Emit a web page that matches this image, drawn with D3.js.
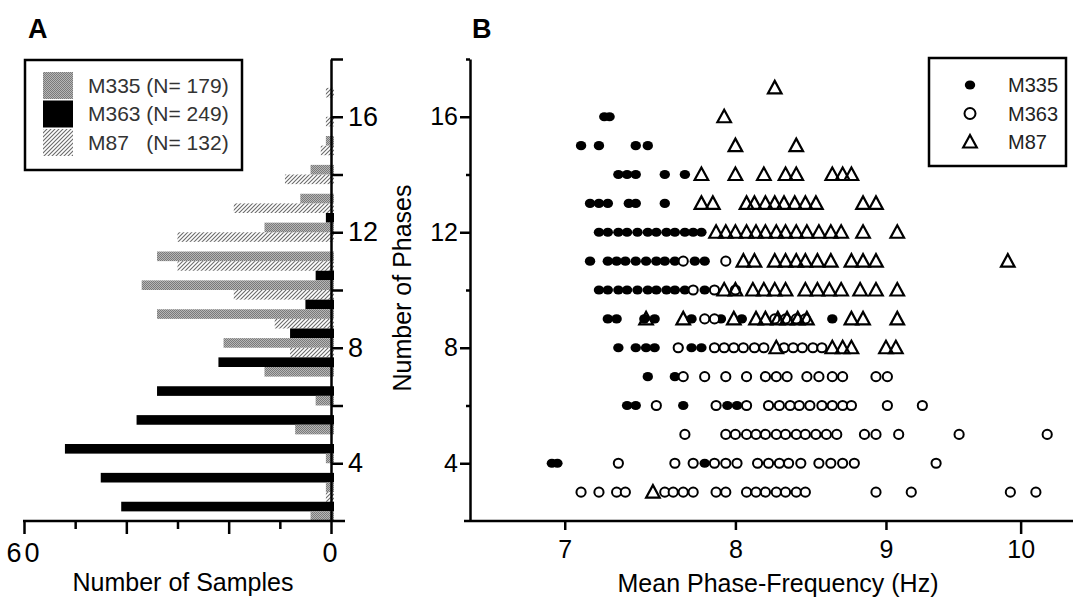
<!DOCTYPE html>
<html>
<head>
<meta charset="utf-8">
<script src="https://cdn.jsdelivr.net/npm/d3@7"></script>
<style>
  body { margin: 0; background: #fff; }
  svg text { font-family: "Liberation Sans", Arial, sans-serif; fill: #000; }
</style>
</head>
<body>
<script>
// ---- panel A : histogram of phases per animal
var phases = d3.range(3, 18);
var countM335 = [4, 1, 1, 7, 3, 13, 21, 34, 37, 34, 13, 6, 4, 1, 0];
var countM363 = [41, 45, 52, 38, 34, 22, 8, 5, 3, 0, 1, 0, 0, 0, 0];
var countM87  = [1, 0, 0, 0, 0, 8, 11, 19, 30, 30, 19, 9, 2, 1, 1];
var legendA = ["M335 (N= 179)", "M363 (N= 249)", "M87   (N= 132)"];

// ---- panel B : mean phase frequency (Hz) per number of phases
var freqM335 = [
  [16, [7.22, 7.25]],
  [15, [7.09, 7.19, 7.40, 7.47]],
  [14, [7.30, 7.35, 7.40, 7.57, 7.69]],
  [13, [7.14, 7.19, 7.24, 7.36, 7.40, 7.57]],
  [12, [7.19, 7.24, 7.30, 7.35, 7.41, 7.47, 7.52, 7.58, 7.63, 7.69, 7.74, 7.79]],
  [11, [7.14, 7.24, 7.29, 7.34, 7.40, 7.46, 7.52, 7.57, 7.63, 7.75, 7.81]],
  [10, [7.19, 7.24, 7.30, 7.35, 7.41, 7.47, 7.52, 7.58, 7.63, 7.69, 7.81]],
  [9,  [7.24, 7.29, 7.45, 7.51, 7.73, 7.91, 8.04, 8.63]],
  [8,  [7.30, 7.40, 7.46, 7.51, 7.65, 7.73, 7.79]],
  [7,  [7.47, 7.63]],
  [6,  [7.35, 7.40, 7.68, 7.95, 8.01]],
  [4,  [6.93, 6.96, 7.81]]
];
var freqM363 = [
  [11, [7.68, 7.94]],
  [10, [7.74, 7.87, 8.00]],
  [9,  [7.81, 7.87, 8.25, 8.32, 8.39, 8.45]],
  [8,  [7.65, 7.87, 7.93, 7.99, 8.05, 8.12, 8.18, 8.31, 8.37, 8.43, 8.50, 8.56]],
  [7,  [7.68, 7.81, 7.94, 8.07, 8.19, 8.26, 8.33, 8.46, 8.54, 8.63, 8.70, 8.93, 9.01]],
  [6,  [7.52, 7.88, 8.07, 8.21, 8.28, 8.35, 8.41, 8.48, 8.56, 8.63, 8.70, 8.76, 9.01, 9.26]],
  [5,  [7.69, 7.94, 8.00, 8.07, 8.13, 8.19, 8.26, 8.32, 8.39, 8.45, 8.52, 8.59, 8.66, 8.85, 8.93, 9.09, 9.53, 10.21]],
  [4,  [7.30, 7.63, 7.74, 7.87, 7.94, 8.01, 8.14, 8.21, 8.28, 8.34, 8.42, 8.54, 8.62, 8.70, 8.78, 9.36]],
  [3,  [7.09, 7.19, 7.29, 7.34, 7.57, 7.62, 7.68, 7.74, 7.88, 7.94, 8.07, 8.13, 8.19, 8.26, 8.32, 8.39, 8.45, 8.93, 9.18, 9.92, 10.12]]
];
var freqM87 = [
  [17, [8.25]],
  [16, [7.93]],
  [15, [8.00, 8.39]],
  [14, [7.79, 8.00, 8.18, 8.32, 8.39, 8.63, 8.70, 8.76]],
  [13, [7.79, 7.86, 8.07, 8.12, 8.19, 8.25, 8.31, 8.38, 8.45, 8.52, 8.84, 8.93]],
  [12, [7.88, 7.94, 8.00, 8.07, 8.13, 8.19, 8.26, 8.32, 8.39, 8.46, 8.54, 8.62, 8.69, 8.84, 9.08]],
  [11, [8.05, 8.12, 8.25, 8.32, 8.39, 8.45, 8.53, 8.62, 8.76, 8.84, 8.93, 9.90]],
  [10, [7.93, 8.00, 8.11, 8.18, 8.25, 8.32, 8.45, 8.53, 8.61, 8.69, 8.82, 8.93, 9.08]],
  [9,  [7.46, 7.68, 7.99, 8.13, 8.19, 8.27, 8.33, 8.40, 8.46, 8.76, 8.84, 9.08]],
  [8,  [8.26, 8.63, 8.70, 8.76, 9.00, 9.07]],
  [3,  [7.50]]
];
var legendB = ["M335", "M363", "M87"];
var freqTicks = [7, 8, 9, 10];
var phaseTicks = [4, 6, 8, 10, 12, 14, 16, 18];
var sampleTicks = [60, 50, 40, 30, 20, 10, 0];

var W = 1073, H = 597;
var svg = d3.select("body").append("svg")
    .attr("width", W)
    .attr("height", H);

var defs = svg.append("defs");
// fine grey stipple (M335)
var pDots = defs.append("pattern")
    .attr("id", "dots")
    .attr("width", 2).attr("height", 2)
    .attr("patternUnits", "userSpaceOnUse");
pDots.append("rect").attr("width", 2).attr("height", 2).attr("fill", "#b6b6b6");
pDots.append("rect").attr("width", 1).attr("height", 1).attr("fill", "#7a7a7a");
pDots.append("rect").attr("x", 1).attr("y", 1).attr("width", 1).attr("height", 1).attr("fill", "#7a7a7a");
// diagonal hatch (M87)
var pHatch = defs.append("pattern")
    .attr("id", "hatch")
    .attr("width", 4).attr("height", 4)
    .attr("patternUnits", "userSpaceOnUse");
pHatch.append("rect").attr("width", 4).attr("height", 4).attr("fill", "#fff");
pHatch.append("path")
    .attr("d", "M-1,1 l2,-2 M0,4 l4,-4 M3,5 l2,-2")
    .attr("stroke", "#6a6a6a").attr("stroke-width", 1.1);

var fills = {M335: "url(#dots)", M363: "#000", M87: "url(#hatch)"};

// shared phase scale
var yScale = d3.scaleLinear().domain([2, 18]).range([521, 59]);

// ================= panel A
var xA = d3.scaleLinear().domain([60, 0]).range([24, 331]);
var gA = svg.append("g");

var seriesA = [
  {key: "M87", counts: countM87},
  {key: "M363", counts: countM363},
  {key: "M335", counts: countM335}
];
var bandH = yScale(2) - yScale(3);
var sub = d3.scaleBand().domain(["M87", "M363", "M335"]).range([0, bandH]);

seriesA.forEach(function(s) {
  gA.selectAll("rect." + s.key)
      .data(phases.map(function(p, i) { return {phase: p, n: s.counts[i]}; })
                  .filter(function(d) { return d.n > 0; }))
      .enter()
      .append("rect")
      .attr("class", s.key)
      .attr("x", function(d) { return xA(d.n); })
      .attr("y", function(d) { return yScale(d.phase) + sub(s.key); })
      .attr("width", function(d) { return xA(0) + 3 - xA(d.n); })
      .attr("height", sub.bandwidth())
      .attr("fill", fills[s.key]);
});

// y axis (ticks to the right)
var axA = gA.append("g")
    .attr("transform", "translate(" + xA(0) + ",0)")
    .call(d3.axisRight(yScale).tickValues(phaseTicks).tickSize(12).tickPadding(5).tickSizeOuter(0)
          .tickFormat(function(d) { return d % 4 === 0 ? d : ""; }));
// x axis
var axAx = gA.append("g")
    .attr("transform", "translate(0," + yScale(2) + ")")
    .call(d3.axisBottom(xA).tickValues(sampleTicks).tickSize(13).tickSizeOuter(0)
          .tickFormat(function(d) { return (d === 60 || d === 0) ? d : ""; }));
axAx.selectAll(".tick line").attr("y2", function(d) { return d % 20 === 0 ? 13 : 8; });
axAx.select(".domain").attr("d", "M" + (xA(60) - 1) + ",0H" + (xA(0) + 14));
axAx.selectAll(".tick text").attr("y", 22).attr("font-size", 27).attr("letter-spacing", 3);
axA.selectAll(".tick text").attr("font-size", 27);

gA.append("text")
    .attr("x", 183).attr("y", 591)
    .attr("text-anchor", "middle")
    .attr("font-size", 25)
    .text("Number of Samples");

gA.append("text")
    .attr("x", 28).attr("y", 38)
    .attr("font-size", 27).attr("font-weight", "bold")
    .text("A");

// legend A
var legA = gA.append("g");
legA.append("rect")
    .attr("x", 25).attr("y", 60).attr("width", 217).attr("height", 110)
    .attr("fill", "#fff").attr("stroke", "#000").attr("stroke-width", 2.5);
var legKeys = ["M335", "M363", "M87"];
legKeys.forEach(function(k, i) {
  var cy = 85 + i * 28.5;
  legA.append("rect")
      .attr("x", 43).attr("y", cy - 13).attr("width", 30).attr("height", 27)
      .attr("fill", fills[k]);
  legA.append("text")
      .attr("x", 88).attr("y", cy)
      .attr("dy", "0.36em")
      .attr("font-size", 21)
      .style("white-space", "pre")
      .attr("xml:space", "preserve")
      .style("fill", "#333")
      .text(legendA[i]);
});

// ================= panel B
var xB = d3.scaleLog().domain([6.5, 10.5]).range([470, 1083]);
var gB = svg.append("g");

gB.append("g")
    .attr("transform", "translate(" + xB(6.5) + ",0)")
    .call(d3.axisLeft(yScale).tickValues(phaseTicks).tickSize(10).tickPadding(2).tickSizeOuter(0)
          .tickFormat(function(d) { return d % 4 === 0 ? d : ""; }))
    .call(function(g) {
      g.selectAll(".tick line").attr("x2", function(d) { return d % 4 === 0 ? -10 : -4; });
      g.selectAll(".tick text").attr("font-size", 25);
    });

gB.append("g")
    .attr("transform", "translate(0," + yScale(2) + ")")
    .call(d3.axisBottom(xB).tickValues(freqTicks).tickSize(9).tickPadding(10).tickSizeOuter(0)
          .tickFormat(d3.format("d")))
    .call(function(g) {
      g.select(".domain").attr("d", "M" + (xB(6.5) - 6) + ",0H" + W);
      g.selectAll(".tick line").attr("y2", function(d) { return d === 10 ? 13 : 9; });
      g.selectAll(".tick text").attr("font-size", 25);
    });

svg.selectAll(".domain, .tick line")
    .attr("stroke", "#000").attr("stroke-width", 2.5);
svg.selectAll(".tick text").attr("fill", "#000")
    .attr("font-family", "'Liberation Sans', Arial, sans-serif");

gB.append("text")
    .attr("x", 778).attr("y", 592)
    .attr("text-anchor", "middle")
    .attr("font-size", 25)
    .text("Mean Phase-Frequency (Hz)");

gB.append("text")
    .attr("transform", "translate(411,288) rotate(-90)")
    .attr("text-anchor", "middle")
    .attr("font-size", 25)
    .text("Number of Phases");

gB.append("text")
    .attr("x", 472).attr("y", 38)
    .attr("font-size", 27).attr("font-weight", "bold")
    .text("B");

function flatten(rows) {
  var out = [];
  rows.forEach(function(r) {
    r[1].forEach(function(f) { out.push({phase: r[0], f: f}); });
  });
  return out;
}

var triPath = "M0,-7L6.8,5.5L-6.8,5.5Z";

gB.selectAll("circle.m335")
    .data(flatten(freqM335))
    .enter()
    .append("ellipse")
    .attr("class", "m335")
    .attr("cx", function(d) { return xB(d.f); })
    .attr("cy", function(d) { return yScale(d.phase); })
    .attr("rx", 5.2).attr("ry", 4.6)
    .attr("fill", "#000");

gB.selectAll("circle.m363")
    .data(flatten(freqM363))
    .enter()
    .append("circle")
    .attr("class", "m363")
    .attr("cx", function(d) { return xB(d.f); })
    .attr("cy", function(d) { return yScale(d.phase); })
    .attr("r", 4.6)
    .attr("fill", "#fff")
    .attr("stroke", "#000").attr("stroke-width", 2);

gB.selectAll("path.m87")
    .data(flatten(freqM87))
    .enter()
    .append("path")
    .attr("class", "m87")
    .attr("transform", function(d) { return "translate(" + xB(d.f) + "," + yScale(d.phase) + ")"; })
    .attr("d", triPath)
    .attr("fill", "none")
    .attr("stroke", "#000").attr("stroke-width", 2.2);

// legend B
var legB = gB.append("g");
legB.append("rect")
    .attr("x", 929).attr("y", 58).attr("width", 137).attr("height", 108)
    .attr("fill", "#fff").attr("stroke", "#000").attr("stroke-width", 2.5);
legendB.forEach(function(k, i) {
  var cy = 85 + i * 28.5;
  if (i === 0) {
    legB.append("ellipse").attr("cx", 970).attr("cy", cy).attr("rx", 5.2).attr("ry", 4.6).attr("fill", "#000");
  } else if (i === 1) {
    legB.append("circle").attr("cx", 970).attr("cy", cy).attr("r", 5.5)
        .attr("fill", "#fff").attr("stroke", "#000").attr("stroke-width", 2);
  } else {
    legB.append("path").attr("transform", "translate(970," + cy + ")").attr("d", triPath)
        .attr("fill", "none").attr("stroke", "#000").attr("stroke-width", 2.2);
  }
  legB.append("text")
      .attr("x", 1008).attr("y", cy)
      .attr("dy", "0.36em")
      .attr("font-size", 20)
      .style("fill", "#222")
      .text(k);
});
</script>
</body>
</html>
